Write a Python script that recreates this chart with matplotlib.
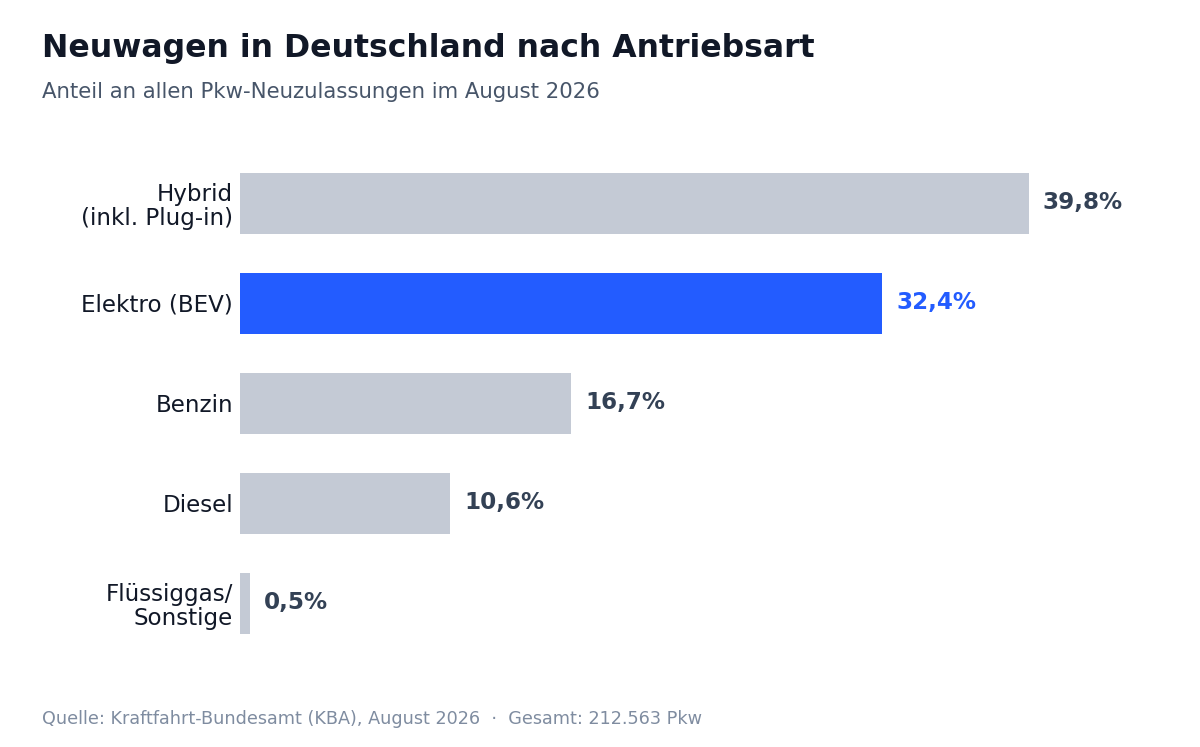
import matplotlib
matplotlib.use("Agg")
import matplotlib.pyplot as plt

plt.rcParams["font.family"] = ["DejaVu Sans"]

# data (top to bottom)
categories = ["Hybrid\n(inkl. Plug-in)", "Elektro (BEV)", "Benzin", "Diesel", "Flüssiggas/\nSonstige"]
shares = [39.8, 32.4, 16.7, 10.6, 0.5]
highlight = "Elektro (BEV)"

GRAY = "#c4cad5"
BLUE = "#235cff"
LABEL = "#334155"

fig = plt.figure(figsize=(12, 7.47), dpi=100)
ax = fig.add_axes([240 / 1200, 94 / 747, 892 / 1200, 500 / 747])

y = list(range(len(categories)))
colors = [BLUE if c == highlight else GRAY for c in categories]
bars = ax.barh(y, shares, height=0.61, color=colors)

for bar, val, cat in zip(bars, shares, categories):
    txt = f"{val:.1f}".replace(".", ",") + "%"
    ax.annotate(txt, (bar.get_width(), bar.get_y() + bar.get_height() / 2),
                xytext=(10, 0), textcoords="offset points", va="center", ha="left",
                fontsize=16.6, fontweight="bold",
                color=BLUE if cat == highlight else LABEL)

ax.set_ylim(len(categories) - 0.5, -0.5)
ax.set_xlim(0, 45)
ax.set_yticks(y)
ax.set_yticklabels(categories, fontsize=16.6, color="#111827", linespacing=1.1)
ax.tick_params(axis="y", length=0, pad=5)
ax.set_xticks([])
for s in ax.spines.values():
    s.set_visible(False)

fig.text(42 / 1200, 1 - 57 / 747, "Neuwagen in Deutschland nach Antriebsart",
         fontsize=22.7, fontweight="bold", color="#111827", ha="left", va="baseline")
fig.text(42 / 1200, 1 - 98 / 747, "Anteil an allen Pkw-Neuzulassungen im August 2026",
         fontsize=15.3, color="#475569", ha="left", va="baseline")
fig.text(42 / 1200, 1 - 724 / 747,
         "Quelle: Kraftfahrt-Bundesamt (KBA), August 2026  ·  Gesamt: 212.563 Pkw",
         fontsize=12.7, color="#7f8ca0", ha="left", va="baseline")

fig.savefig("out.png", dpi=100, facecolor="white")
